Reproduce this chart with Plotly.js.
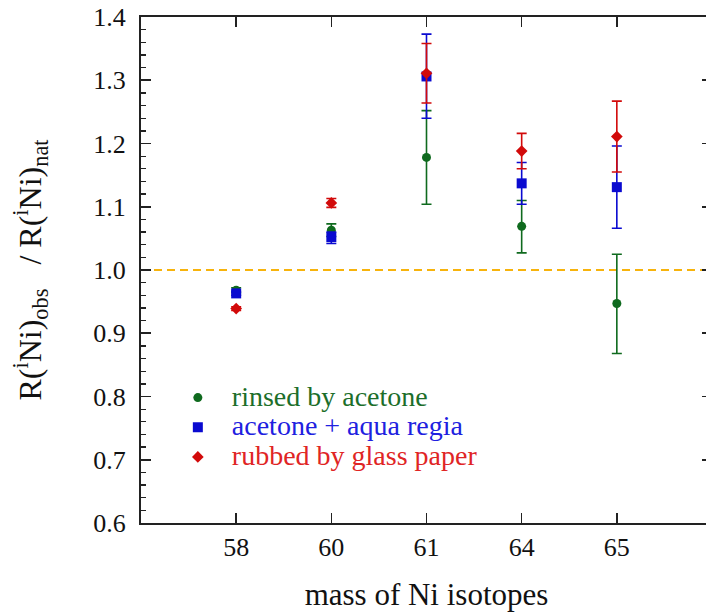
<!DOCTYPE html>
<html>
<head>
<meta charset="utf-8">
<script src="https://cdn.plot.ly/plotly-3.0.1.min.js"></script>
<style>
html,body{margin:0;padding:0;overflow:hidden;background:#fff;}
#chart{width:720px;height:615px;}
</style>
</head>
<body>
<div id="chart"></div>
<script>
// ---- data ----
const isotopes = ['58', '60', '61', '64', '65'];

const rinsedName = 'rinsed by acetone';
const rinsedVals = [0.968, 1.063, 1.178, 1.069, 0.947];
const rinsedErrPlus = [0.004, 0.010, 0.074, 0.041, 0.078];
const rinsedErrMinus = [0.004, 0.010, 0.074, 0.042, 0.079];

const aquaName = 'acetone + aqua regia';
const aquaVals = [0.963, 1.052, 1.306, 1.137, 1.131];
const aquaErrPlus = [0.003, 0.008, 0.067, 0.033, 0.065];
const aquaErrMinus = [0.003, 0.010, 0.066, 0.033, 0.065];

const rubbedName = 'rubbed by glass paper';
const rubbedVals = [0.939, 1.106, 1.311, 1.188, 1.211];
const rubbedErrPlus = [0.003, 0.007, 0.047, 0.028, 0.056];
const rubbedErrMinus = [0.003, 0.007, 0.047, 0.028, 0.056];

const referenceLevel = 1.0;
const yTickVals = [0.6, 0.7, 0.8, 0.9, 1.0, 1.1, 1.2, 1.3, 1.4];
const yTickText = ['0.6', '0.7', '0.8', '0.9', '1.0', '1.1', '1.2', '1.3', '1.4'];

// ---- styling ----
const FONT = 'Liberation Serif';
const cGreen = '#0f6a1e', cBlue = '#0a0ad0', cRed = '#d20a0a';
const tGreen = '#1c6e2a', tBlue = '#2020e0', tRed = '#e02424';

function series(name, vals, ep, em, color, textColor, symbol, size) {
  return {
    type: 'scatter', mode: 'markers',
    x: isotopes, y: vals,
    name: '<span style="font-size:28px;fill:' + textColor + '">' + name + '</span>',
    marker: {color: color, symbol: symbol, size: size, line: {width: 0}},
    error_y: {type: 'data', symmetric: false, array: ep, arrayminus: em,
              color: color, thickness: 1.6, width: 5},
    cliponaxis: false
  };
}

const traces = [
  series(rinsedName, rinsedVals, rinsedErrPlus, rinsedErrMinus, cGreen, tGreen, 'circle', 9),
  series(aquaName, aquaVals, aquaErrPlus, aquaErrMinus, cBlue, tBlue, 'square', 10),
  series(rubbedName, rubbedVals, rubbedErrPlus, rubbedErrMinus, cRed, tRed, 'diamond', 9)
];

const layout = {
  width: 720, height: 615,
  margin: {l: 141, r: 8, t: 17, b: 92, pad: 0},
  paper_bgcolor: '#fff', plot_bgcolor: '#fff',
  font: {family: FONT, color: '#111', size: 26},
  showlegend: true,
  legend: {
    x: 0.04, y: 0.287, xanchor: 'left', yanchor: 'top',
    bgcolor: 'rgba(0,0,0,0)', borderwidth: 0,
    font: {family: FONT, size: 20.5, color: '#111'},
    itemwidth: 58, tracegroupgap: 0
  },
  xaxis: {
    type: 'category', range: [-1, 5],
    showgrid: false, zeroline: false,
    showline: true, linecolor: '#222', linewidth: 2, mirror: 'ticks',
    ticks: 'inside', ticklen: 10, tickwidth: 1.6, tickcolor: '#222',
    tickfont: {family: FONT, size: 26, color: '#111'},
    ticklabelstandoff: 0,
    title: {text: 'mass of Ni isotopes', font: {family: FONT, size: 31, color: '#111'}, standoff: 22}
  },
  yaxis: {
    range: [0.6, 1.4],
    tickvals: yTickVals, ticktext: yTickText,
    showgrid: false, zeroline: false,
    showline: true, linecolor: '#222', linewidth: 2, mirror: 'ticks',
    ticks: 'inside', ticklen: 10, tickwidth: 1.6, tickcolor: '#222',
    minor: {dtick: 0.02, ticks: 'inside', ticklen: 5, tickwidth: 1.3, tickcolor: '#222', showgrid: false},
    tickfont: {family: FONT, size: 26, color: '#111'},
    ticklabelstandoff: 8,
    title: {text: 'R(<sup>i</sup>Ni)<sub>obs</sub>\u00a0\u00a0 / R(<sup>i</sup>Ni)<sub>nat</sub>',
            font: {family: FONT, size: 32, color: '#111'}, standoff: 42}
  },
  shapes: [{
    type: 'line', xref: 'paper', x0: 0, x1: 1, yref: 'y', y0: referenceLevel, y1: referenceLevel,
    line: {color: '#f7b30c', width: 2.2, dash: '8px,5px'}, layer: 'below'
  }]
};

Plotly.newPlot('chart', traces, layout, {displayModeBar: false, staticPlot: true});
</script>
</body>
</html>
